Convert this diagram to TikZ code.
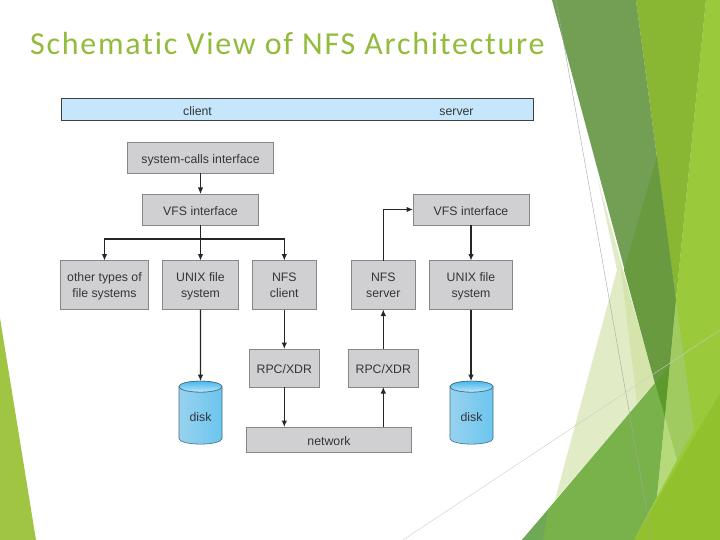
\documentclass[tikz,border=0pt]{standalone}
\usepackage{fontspec}
\setmainfont{Liberation Sans}
\newfontfamily\titlefont[LetterSpace=5.5,Ligatures=NoCommon]{Carlito}
\usepackage{tikz}
\usetikzlibrary{arrows.meta,positioning,shapes.geometric}
\definecolor{titlegreen}{HTML}{93BB3C}
\definecolor{boxgray}{HTML}{D0D0D2}
\definecolor{boxedge}{HTML}{85878A}
\definecolor{bandblue}{HTML}{C6E7FB}
\definecolor{labeltext}{HTML}{333638}
\definecolor{diskedge}{HTML}{3F6F85}
\definecolor{diskleft}{HTML}{98D2EF}
\definecolor{diskmid}{HTML}{E3F5FD}
\definecolor{diskright}{HTML}{6CC5EF}
\definecolor{lidtop}{HTML}{47B8EE}
\definecolor{lidbottom}{HTML}{BCE6F8}
\tikzset{
    blockbox/.style={draw=boxedge, fill=boxgray, line width=0.7pt, align=center, text=labeltext, font=\fontsize{12.3}{16}\selectfont, text depth=0pt, inner sep=0pt, outer sep=0pt},
    singlebox/.style={blockbox, text height=11.5pt},
    bandlabel/.style={anchor=base, text=labeltext, font=\fontsize{12.3}{14}\selectfont, inner sep=0pt},
    diskbox/.style={cylinder, shape border rotate=90, aspect=0.5, draw=diskedge, line width=0.6pt, left color=diskleft, middle color=diskmid, right color=diskright, minimum width=43pt, minimum height=63pt, inner sep=0pt, outer sep=0pt, text=labeltext, font=\fontsize{12.3}{14}\selectfont},
    disklid/.style={draw=diskedge, line width=0.6pt, top color=lidtop, bottom color=lidbottom},
    flowarrow/.style={-{Latex[length=6.5pt,width=5.5pt]}, line width=1.1pt, draw=black!85},
    facet/.style={draw=none}
}
\begin{document}
\begin{tikzpicture}[x=1pt,y=-1pt]
    \useasboundingbox (0,0) rectangle (720,540);
    % background facets
    \fill[facet, fill=black!0] (0,0) rectangle (720,540);
    \fill[facet, fill={rgb,255:red,160;green,197;blue,67}] (0,318) -- (36,540) -- (0,540) -- cycle;
    \fill[facet, fill={rgb,255:red,225;green,235;blue,198}] (598,180) -- (617,270) -- (555,500) -- (655,383) -- cycle;
    \fill[facet, fill={rgb,255:red,212;green,228;blue,170}] (620,262) -- (655,383) -- (637,402) -- cycle;
    \fill[facet, fill={rgb,255:red,154;green,201;blue,60}] (706,0) -- (720,0) -- (720,540) -- (634,540) -- (657,497) -- (665,417) -- (676,300) -- cycle;
    \fill[facet, fill={rgb,255:red,145;green,193;blue,45}] (720,393) -- (720,540) -- (634,540) -- cycle;
    \fill[facet, fill={rgb,255:red,138;green,183;blue,51}] (636,0) -- (706,0) -- (676,300) -- cycle;
    \fill[facet, fill={rgb,255:red,114;green,159;blue,83}] (552,0) -- (636,0) -- (676,300) -- (665,417) -- (655,383) -- cycle;
    \fill[facet, fill={rgb,255:red,105;green,154;blue,64}] (657,157) -- (676,300) -- (665,417) -- (655,383) -- (624,270) -- cycle;
    \fill[facet, fill={rgb,255:red,121;green,178;blue,74}] (655,383) -- (522,540) -- (634,540) -- (657,497) -- (665,417) -- cycle;
    \fill[facet, fill={rgb,255:red,111;green,169;blue,88}] (548,510) -- (522,540) -- (543,540) -- cycle;
    \fill[facet, fill={rgb,255:red,92;green,154;blue,44}] (655,383) -- (669,367) -- (665,417) -- cycle;
    \fill[facet, fill={rgb,255:red,160;green,203;blue,96}] (676,300) -- (694,430) -- (677,460) -- (665,417) -- cycle;
    \fill[facet, fill={rgb,255:red,182;green,217;blue,124}] (665,417) -- (677,460) -- (657,497) -- cycle;
    \draw[black!35, line width=0.4pt] (556,0) -- (652,540);
    \draw[black!20, line width=0.4pt] (403,540) -- (720,330);

    \node[anchor=base west, inner sep=0pt, text=titlegreen, font=\titlefont\fontsize{32}{36}\selectfont] (title) at (30,54.5) {Schematic View of NFS Architecture};

    \node[draw=black!75, fill=bandblue, line width=0.7pt, minimum width=472pt, minimum height=22pt, inner sep=0pt, outer sep=0pt] (band) at (297,109.7) {};
    \node[bandlabel] (clientlabel) at (197.5,115.5) {client};
    \node[bandlabel] (serverlabel) at (456.5,115.5) {server};

    % client side
    \node[singlebox, minimum width=146.5pt, minimum height=31pt] (syscalls) at (200.5,157.5) {system-calls interface};
    \node[singlebox, minimum width=116.5pt, minimum height=31pt, below=21pt of syscalls] (vfsc) {VFS interface};
    \node[blockbox, minimum width=88pt, minimum height=49pt] (other) at (104.5,285) {other types of\\file systems};
    \node[blockbox, minimum width=75.5pt, minimum height=49pt] (unixc) at (200.5,285) {UNIX file\\system};
    \node[blockbox, minimum width=64.5pt, minimum height=49pt] (nfsc) at (284.3,285) {NFS\\client};
    \node[singlebox, minimum width=70.5pt, minimum height=38pt, below=39.5pt of nfsc] (rpcc) {RPC/XDR};
    \node[diskbox] (diskc) at (200.5,415.5) {\raisebox{-6pt}[0pt][0pt]{disk}};

    % server side
    \node[singlebox, minimum width=116pt, minimum height=31pt] (vfss) at (471,209.5) {VFS interface};
    \node[blockbox, minimum width=64.5pt, minimum height=49pt] (nfss) at (383.3,285) {NFS\\server};
    \node[blockbox, minimum width=83.5pt, minimum height=49pt] (unixs) at (471,285) {UNIX file\\system};
    \node[singlebox, minimum width=70pt, minimum height=38pt, below=39.5pt of nfss] (rpcs) {RPC/XDR};
    \node[diskbox] (disks) at (471.5,415.5) {\raisebox{-6pt}[0pt][0pt]{disk}};
    \node[singlebox, minimum width=165.5pt, minimum height=25pt] (network) at (329,439.5) {network};

    % disk lids
    \draw[disklid] ([yshift=-5.5pt]diskc.north) ellipse (21.5pt and 5.5pt);
    \draw[disklid] ([yshift=-5.5pt]disks.north) ellipse (21.5pt and 5.5pt);

    \coordinate (fork) at (200.5,239);
    \draw[flowarrow] (syscalls.south) -- (syscalls.south |- vfsc.north);
    \draw[flowarrow] (vfsc.south) -- (vfsc.south |- unixc.north);
    \draw[flowarrow] (fork) -| (other.north);
    \draw[flowarrow] (fork) -| (nfsc.north);
    \draw[flowarrow] (unixc.south) -- (diskc.north);
    \draw[flowarrow] (nfsc.south) -- (rpcc.north);
    \draw[flowarrow] (rpcc.south) -- (rpcc.south |- network.north);
    \draw[flowarrow] (rpcs.south |- network.north) -- (rpcs.south);
    \draw[flowarrow] (rpcs.north) -- (nfss.south);
    \draw[flowarrow] (nfss.north) |- (vfss.west);
    \draw[flowarrow] (vfss.south) -- (unixs.north);
    \draw[flowarrow] (unixs.south) -- (unixs.south |- disks.north);
\end{tikzpicture}
\end{document}
